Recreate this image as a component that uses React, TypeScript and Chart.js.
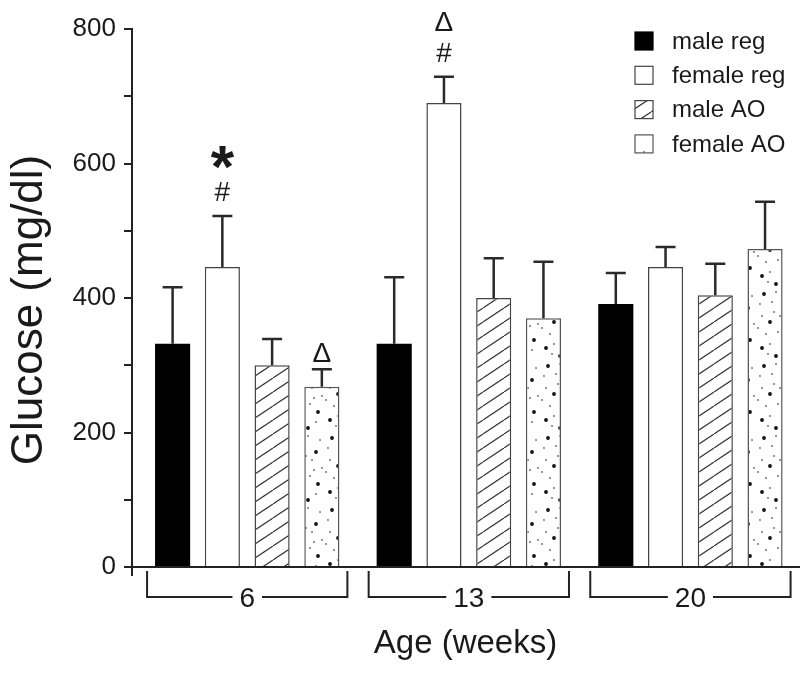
import React, { useEffect, useRef } from 'react';
import { Chart, registerables } from 'chart.js';

Chart.register(...registerables);

// ---- data ----
const ageGroups = ['6', '13', '20'];
const seriesNames = ['male reg', 'female reg', 'male AO', 'female AO'];
const maleReg = [332, 332, 391];
const femaleReg = [446, 690, 446];
const maleAO = [300, 400, 404];
const femaleAO = [268, 370, 473];
const maleRegErr = [84, 99, 46];
const femaleRegErr = [76, 39, 30];
const maleAOErr = [39, 59, 47];
const femaleAOErr = [26, 84, 70];
const yTickStep = 100;
const yLabelStep = 200;
const yMax = 800;
const yTitle = 'Glucose (mg/dl)';
const xTitle = 'Age (weeks)';
// significance marks: series index, group index, marks from top to bottom
const sigMarks = [
  { series: 1, group: 0, marks: ['*', '#'] },
  { series: 3, group: 0, marks: ['Δ'] },
  { series: 1, group: 1, marks: ['Δ', '#'] },
];

const seriesValues = [maleReg, femaleReg, maleAO, femaleAO];
const seriesErrors = [maleRegErr, femaleRegErr, maleAOErr, femaleAOErr];

const FONT = "'Liberation Sans', Arial, Helvetica, sans-serif";
const INK = '#1a1a1a';

function makeHatch(): CanvasPattern | string {
  const c = document.createElement('canvas');
  const W = 21, H = 14;
  c.width = W; c.height = H;
  const g = c.getContext('2d');
  if (!g) return '#fff';
  g.fillStyle = '#fff';
  g.fillRect(0, 0, W, H);
  g.strokeStyle = '#333';
  g.lineWidth = 1.2;
  for (const dx of [-W, 0, W]) {
    g.beginPath();
    g.moveTo(dx, H);
    g.lineTo(dx + W, 0);
    g.stroke();
  }
  return g.createPattern(c, 'repeat') || '#fff';
}

function makeDots(): CanvasPattern | string {
  const c = document.createElement('canvas');
  const W = 36, H = 72;
  c.width = W; c.height = H;
  const g = c.getContext('2d');
  if (!g) return '#fff';
  g.fillStyle = '#fff';
  g.fillRect(0, 0, W, H);
  g.fillStyle = '#111';
  const big = [[8, 6], [28, 20], [14, 34], [30, 52], [6, 60], [20, 68]];
  const small = [[20, 4], [4, 16], [16, 14], [32, 8], [24, 28], [6, 28], [34, 36], [22, 44], [10, 46], [2, 40], [28, 62], [14, 56], [26, 38], [18, 24], [12, 66]];
  for (const [x, y] of big) { g.beginPath(); g.arc(x, y, 1.9, 0, Math.PI * 2); g.fill(); }
  for (const [x, y] of small) { g.beginPath(); g.arc(x, y, 0.8, 0, Math.PI * 2); g.fill(); }
  return g.createPattern(c, 'repeat') || '#fff';
}

export default function App() {
  const ref = useRef<HTMLCanvasElement | null>(null);

  useEffect(() => {
    const canvas = ref.current;
    if (!canvas) return;
    const fills: (string | CanvasPattern)[] = ['#000', '#fff', makeHatch(), makeDots()];
    const borders = ['#000', '#444', '#444', '#555'];

    const overlay = {
      id: 'overlay',
      afterDatasetsDraw(chart: any) {
        const { ctx } = chart;
        const xs = chart.scales.x;
        const ys = chart.scales.y;
        const base = ys.getPixelForValue(0);
        ctx.save();
        // error bars
        ctx.strokeStyle = '#2a2a2a';
        ctx.lineWidth = 2.5;
        seriesValues.forEach((vals, k) => {
          const meta = chart.getDatasetMeta(k);
          vals.forEach((v, i) => {
            const bar = meta.data[i];
            const x = bar.x;
            const yTop = ys.getPixelForValue(v + seriesErrors[k][i]);
            ctx.beginPath();
            ctx.moveTo(x, bar.y);
            ctx.lineTo(x, yTop);
            ctx.moveTo(x - 10, yTop);
            ctx.lineTo(x + 10, yTop);
            ctx.stroke();
          });
        });
        // significance marks
        ctx.fillStyle = INK;
        ctx.textAlign = 'center';
        ctx.textBaseline = 'alphabetic';
        sigMarks.forEach((s) => {
          const bar = chart.getDatasetMeta(s.series).data[s.group];
          const cap = ys.getPixelForValue(seriesValues[s.series][s.group] + seriesErrors[s.series][s.group]);
          const n = s.marks.length;
          s.marks.forEach((m, j) => {
            const fromBottom = n - 1 - j;
            let cy: number;
            if (n === 1) cy = cap - 17;
            else cy = cap - 24 - fromBottom * (m === '*' ? 34 : 31);
            ctx.font = m === '*' ? `bold 60px ${FONT}` : `28px ${FONT}`;
            const mt = ctx.measureText(m);
            const asc = mt.actualBoundingBoxAscent;
            const desc = mt.actualBoundingBoxDescent;
            ctx.fillText(m, bar.x, cy + (asc - desc) / 2);
          });
        });
        // axis extension below x axis
        ctx.strokeStyle = '#222';
        ctx.lineWidth = 2;
        ctx.beginPath();
        ctx.moveTo(chart.chartArea.left, base);
        ctx.lineTo(chart.chartArea.left, base + 9);
        ctx.stroke();
        // group brackets
        ctx.font = `28px ${FONT}`;
        const by = base + 30;
        ageGroups.forEach((lab, i) => {
          const l = xs.getPixelForValue(i - 0.452);
          const r = xs.getPixelForValue(i + 0.452);
          const c = xs.getPixelForValue(i);
          const half = ctx.measureText(lab).width / 2 + 7;
          ctx.beginPath();
          ctx.moveTo(l, base + 4);
          ctx.lineTo(l, by);
          ctx.lineTo(c - half, by);
          ctx.moveTo(c + half, by);
          ctx.lineTo(r, by);
          ctx.lineTo(r, base + 4);
          ctx.stroke();
        });
        // y-axis title
        ctx.save();
        ctx.fillStyle = INK;
        ctx.font = `44px ${FONT}`;
        ctx.textAlign = 'center';
        ctx.textBaseline = 'middle';
        ctx.translate(30, 310);
        ctx.rotate(-Math.PI / 2);
        ctx.fillText(yTitle, 0, 0);
        ctx.restore();
        // legend
        const lx = 635, ly0 = 41, step = 34.3, box = 18;
        ctx.font = `24px ${FONT}`;
        ctx.textAlign = 'left';
        ctx.textBaseline = 'middle';
        seriesNames.forEach((name, k) => {
          const cy = ly0 + k * step;
          ctx.fillStyle = fills[k];
          ctx.fillRect(lx, cy - box / 2, box, box);
          ctx.strokeStyle = borders[k];
          ctx.lineWidth = 1.2;
          ctx.strokeRect(lx, cy - box / 2, box, box);
          ctx.fillStyle = INK;
          ctx.fillText(name, lx + 37, cy + 1);
        });
        ctx.restore();
      },
    };

    const chart = new Chart(canvas, {
      type: 'bar',
      data: {
        datasets: seriesNames.map((name, k) => ({
          label: name,
          data: seriesValues[k].map((v, i) => ({ x: i, y: v })),
          backgroundColor: fills[k] as any,
          borderColor: borders[k],
          borderWidth: k === 0 ? 0 : 1.5,
          barPercentage: 0.706,
          categoryPercentage: 0.898,
        })),
      },
      options: {
        responsive: false,
        animation: false,
        devicePixelRatio: 1,
        layout: { padding: { top: 29, right: 1, left: 0, bottom: 0 } },
        plugins: { legend: { display: false }, tooltip: { enabled: false } },
        scales: {
          x: {
            type: 'linear',
            min: -0.52,
            max: 2.49,
            offset: false,
            grid: { display: false, drawTicks: false },
            border: { display: true, color: '#222', width: 2 },
            afterBuildTicks: (s: any) => { s.ticks = ageGroups.map((_, i) => ({ value: i })); },
            afterFit: (s: any) => { s.height = 106; },
            ticks: {
              font: { family: FONT, size: 28 },
              color: INK,
              padding: 15,
              maxRotation: 0,
              autoSkip: false,
              callback: (v: any) => ageGroups[v] ?? '',
            },
            title: {
              display: true,
              text: xTitle,
              color: INK,
              font: { family: FONT, size: 33, lineHeight: 1 },
              padding: { top: 0, bottom: 13 },
            },
          },
          y: {
            min: 0,
            max: yMax,
            afterFit: (s: any) => { s.width = 132; },
            ticks: {
              stepSize: yTickStep,
              font: { family: FONT, size: 26 },
              color: INK,
              padding: 8,
              callback: (v: any) => (v % yLabelStep === 0 ? String(v) : ''),
            },
            grid: { drawOnChartArea: false, tickLength: 8, color: '#222', lineWidth: 2 },
            border: { color: '#222', width: 2 },
            title: { display: false },
          },
        },
      },
      plugins: [overlay],
    } as any);

    return () => chart.destroy();
  }, []);

  return (
    <div style={{ position: 'fixed', left: 0, top: 0, width: 800, height: 673, background: '#fff' }}>
      <canvas ref={ref} width={800} height={673} style={{ display: 'block', width: 800, height: 673 }} />
    </div>
  );
}
